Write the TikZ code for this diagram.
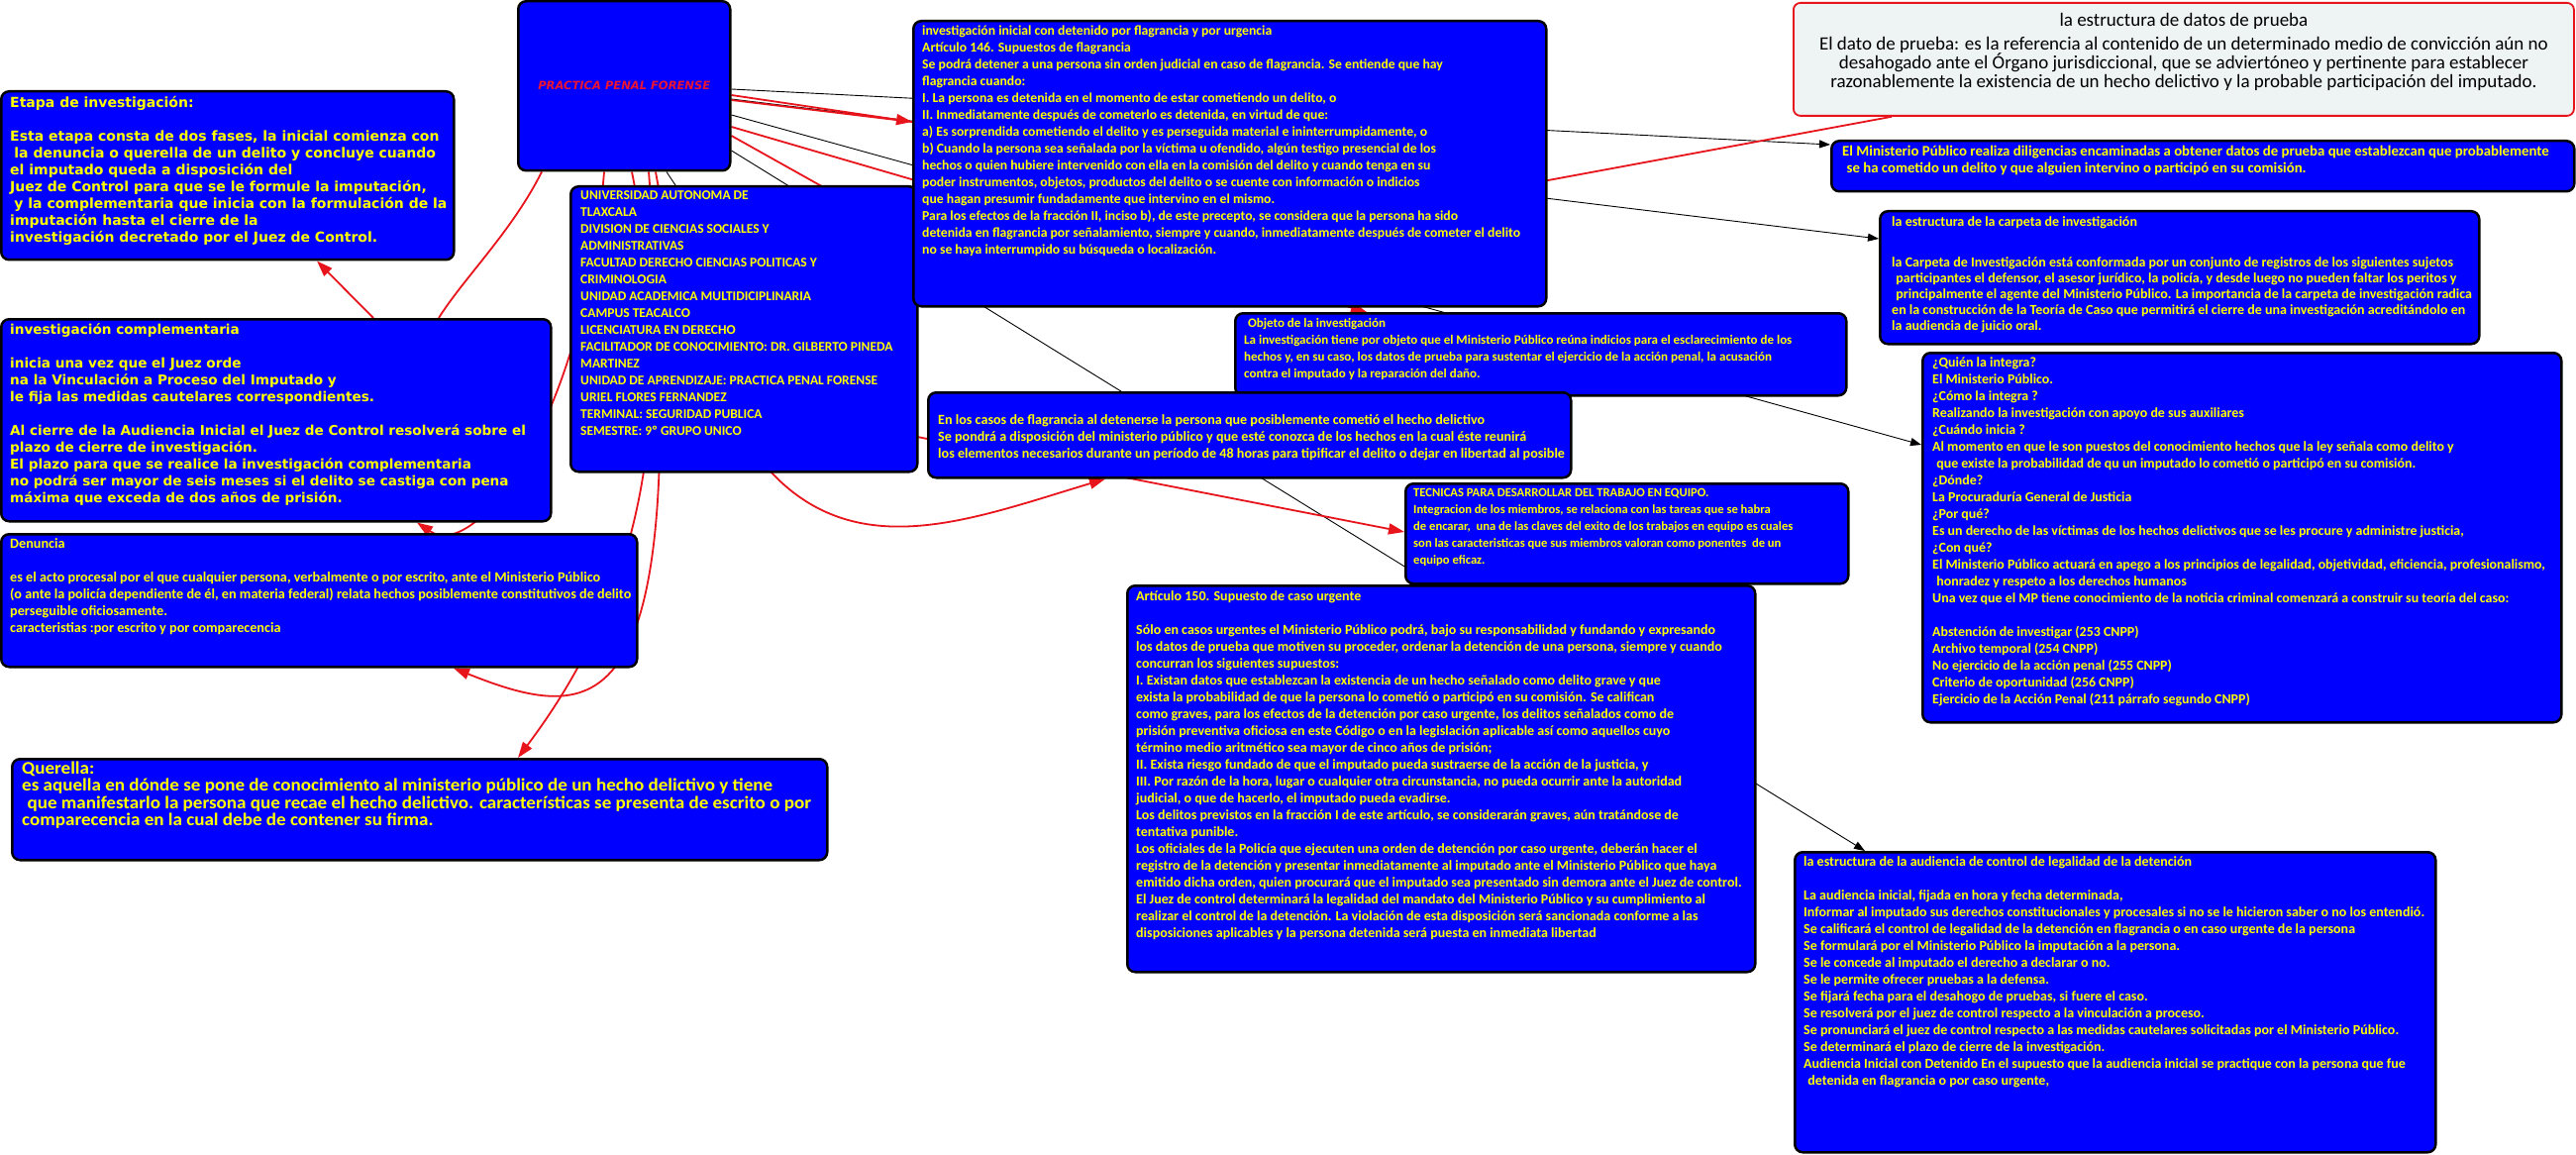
\documentclass[tikz,border=0pt]{standalone}
\usepackage{fontspec}
\newfontfamily\carlito{Carlito}
\newfontfamily\carlitoancha[FakeStretch=1.065]{Carlito}
\newfontfamily\dejavu{DejaVu Sans}
\usetikzlibrary{arrows.meta,calc,positioning}
\definecolor{azulcaja}{RGB}{0,0,255}
\definecolor{amarillo}{RGB}{255,255,0}
\definecolor{rojo}{RGB}{232,20,28}
\definecolor{rojotitulo}{RGB}{235,20,50}
\definecolor{grisdatos}{RGB}{238,243,243}
\pgfdeclarelayer{fondo}
\pgfsetlayers{fondo,main}
\newcommand{\letra}[1]{\carlito\bfseries\fontsize{#1}{17}\selectfont}
\newcommand{\letraancha}[1]{\dejavu\bfseries\fontsize{#1}{17}\selectfont}
\begin{document}
\begin{tikzpicture}[x=1pt, y=1pt,
    caja/.style={draw=black, line width=2.5pt, fill=azulcaja, rounded corners=8pt, anchor=north west},
    texto/.style={text=amarillo, align=left, inner sep=0pt},
    raiz/.style={caja, font=\dejavu\bfseries\itshape\fontsize{11.5}{14}\selectfont, text=rojotitulo},
    cajadatos/.style={draw=rojo, line width=1.8pt, fill=grisdatos, rounded corners=7pt, anchor=north west},
    enlace/.style={draw=black, line width=0.9pt, -{Triangle[length=11pt,width=8pt]}},
    linea/.style={draw=black, line width=0.9pt},
    flecha/.style={draw=rojo, line width=1.8pt, -{Triangle[length=16pt,width=11pt]}},
    trazo/.style={draw=rojo, line width=1.8pt}]
\useasboundingbox (0,0) rectangle (2601,-1166);

% raiz y datos generales
\node[raiz, minimum width=214pt, minimum height=171pt] (prac) at (522,0) {PRACTICA PENAL FORENSE};
\node[caja, minimum width=350pt, minimum height=288pt] (univ) at (575,-187) {};
\node[texto, font=\letra{13.5}, below right=5pt and 11pt of univ.north west] (univ-t) {UNIVERSIDAD AUTONOMA DE\\
TLAXCALA\\
DIVISION DE CIENCIAS SOCIALES Y\\
ADMINISTRATIVAS\\
FACULTAD DERECHO CIENCIAS POLITICAS Y\\
CRIMINOLOGIA\\
UNIDAD ACADEMICA MULTIDICIPLINARIA\\
CAMPUS TEACALCO\\
LICENCIATURA EN DERECHO\\
FACILITADOR DE CONOCIMIENTO: DR. GILBERTO PINEDA\\
MARTINEZ\\
UNIDAD DE APRENDIZAJE: PRACTICA PENAL FORENSE\\
URIEL FLORES FERNANDEZ\\
TERMINAL: SEGURIDAD PUBLICA\\
SEMESTRE: 9º GRUPO UNICO};

% lado izquierdo
\node[caja, minimum width=457pt, minimum height=170pt] (etapa) at (0,-91) {};
\node[texto, font=\letraancha{14}, below right=6pt and 10pt of etapa.north west] (etapa-t) {Etapa de investigación:\\[17pt]
Esta etapa consta de dos fases, la inicial comienza con\\
\hspace*{.3em}la denuncia o querella de un delito y concluye cuando\\
el imputado queda a disposición del\\
Juez de Control para que se le formule la imputación,\\
\hspace*{.3em}y la complementaria que inicia con la formulación de la\\
imputación hasta el cierre de la\\
investigación decretado por el Juez de Control.};

\node[caja, minimum width=555pt, minimum height=204pt] (compl) at (0,-321) {};
\node[texto, font=\letraancha{13.6}, below right=5pt and 10pt of compl.north west] (compl-t) {investigación complementaria\\[17pt]
inicia una vez que el Juez orde\\
na la Vinculación a Proceso del Imputado y\\
le fija las medidas cautelares correspondientes.\\[17pt]
Al cierre de la Audiencia Inicial el Juez de Control resolverá sobre el\\
plazo de cierre de investigación.\\
El plazo para que se realice la investigación complementaria\\
no podrá ser mayor de seis meses si el delito se castiga con pena\\
máxima que exceda de dos años de prisión.};

\node[caja, minimum width=642pt, minimum height=134pt] (denuncia) at (0,-538) {};
\node[texto, font=\letra{14.2}, below right=5pt and 10pt of denuncia.north west] (denuncia-t) {Denuncia\\[17pt]
es el acto procesal por el que cualquier persona, verbalmente o por escrito, ante el Ministerio Público\\
(o ante la policía dependiente de él, en materia federal) relata hechos posiblemente constitutivos de delito\\
perseguible oficiosamente.\\
caracteristias :por escrito y por comparecencia};

\node[caja, minimum width=823pt, minimum height=102pt] (querella) at (11,-765) {};
\node[texto, font=\carlitoancha\bfseries\fontsize{17.9}{17.2}\selectfont, below right=4pt and 11pt of querella.north west] (querella-t) {Querella:\\
es aquella en dónde se pone de conocimiento al ministerio público de un hecho delictivo y tiene\\
\hspace*{.3em}que manifestarlo la persona que recae el hecho delictivo. características se presenta de escrito o por\\
comparecencia en la cual debe de contener su firma.};

% centro
\node[caja, minimum width=639pt, minimum height=288pt] (inicial) at (921,-20) {};
\node[texto, font=\letra{13.7}, below right=6pt and 10pt of inicial.north west] (inicial-t) {investigación inicial con detenido por flagrancia y por urgencia\\
Artículo 146. Supuestos de flagrancia\\
Se podrá detener a una persona sin orden judicial en caso de flagrancia. Se entiende que hay\\
flagrancia cuando:\\
I. La persona es detenida en el momento de estar cometiendo un delito, o\\
II. Inmediatamente después de cometerlo es detenida, en virtud de que:\\
a) Es sorprendida cometiendo el delito y es perseguida material e ininterrumpidamente, o\\
b) Cuando la persona sea señalada por la víctima u ofendido, algún testigo presencial de los\\
hechos o quien hubiere intervenido con ella en la comisión del delito y cuando tenga en su\\
poder instrumentos, objetos, productos del delito o se cuente con información o indicios\\
que hagan presumir fundadamente que intervino en el mismo.\\
Para los efectos de la fracción II, inciso b), de este precepto, se considera que la persona ha sido\\
detenida en flagrancia por señalamiento, siempre y cuando, inmediatamente después de cometer el delito\\
no se haya interrumpido su búsqueda o localización.};

\node[caja, minimum width=617pt, minimum height=83pt] (objeto) at (1246,-315) {};
\node[texto, font=\letra{13}, below right=6pt and 10pt of objeto.north west] (objeto-t) {\hspace*{.3em}Objeto de la investigación\\
La investigación tiene por objeto que el Ministerio Público reúna indicios para el esclarecimiento de los\\
hechos y, en su caso, los datos de prueba para sustentar el ejercicio de la acción penal, la acusación\\
contra el imputado y la reparación del daño.};

\node[caja, minimum width=649pt, minimum height=86pt] (enlos) at (936,-395) {};
\node[texto, font=\letra{14.1}, below right=23pt and 11pt of enlos.north west] (enlos-t) {En los casos de flagrancia al detenerse la persona que posiblemente cometió el hecho delictivo\\
Se pondrá a disposición del ministerio público y que esté conozca de los hechos en la cual éste reunirá\\
los elementos necesarios durante un período de 48 horas para tipificar el delito o dejar en libertad al posible};

\node[caja, minimum width=447pt, minimum height=101pt] (tecnicas) at (1418,-487) {};
\node[texto, font=\letra{12.6}, below right=6pt and 9pt of tecnicas.north west] (tecnicas-t) {TECNICAS PARA DESARROLLAR DEL TRABAJO EN EQUIPO.\\
Integracion de los miembros, se relaciona con las tareas que se habra\\
de encarar,\ \ una de las claves del exito de los trabajos en equipo es cuales\\
son las caracteristicas que sus miembros valoran como ponentes\ \ de un\\
equipo eficaz.};

\node[caja, minimum width=634pt, minimum height=390pt] (art) at (1137,-590) {};
\node[texto, font=\letra{14}, below right=6pt and 10pt of art.north west] (art-t) {Artículo 150. Supuesto de caso urgente\\[17pt]
Sólo en casos urgentes el Ministerio Público podrá, bajo su responsabilidad y fundando y expresando\\
los datos de prueba que motiven su proceder, ordenar la detención de una persona, siempre y cuando\\
concurran los siguientes supuestos:\\
I. Existan datos que establezcan la existencia de un hecho señalado como delito grave y que\\
exista la probabilidad de que la persona lo cometió o participó en su comisión. Se califican\\
como graves, para los efectos de la detención por caso urgente, los delitos señalados como de\\
prisión preventiva oficiosa en este Código o en la legislación aplicable así como aquellos cuyo\\
término medio aritmético sea mayor de cinco años de prisión;\\
II. Exista riesgo fundado de que el imputado pueda sustraerse de la acción de la justicia, y\\
III. Por razón de la hora, lugar o cualquier otra circunstancia, no pueda ocurrir ante la autoridad\\
judicial, o que de hacerlo, el imputado pueda evadirse.\\
Los delitos previstos en la fracción I de este artículo, se considerarán graves, aún tratándose de\\
tentativa punible.\\
Los oficiales de la Policía que ejecuten una orden de detención por caso urgente, deberán hacer el\\
registro de la detención y presentar inmediatamente al imputado ante el Ministerio Público que haya\\
emitido dicha orden, quien procurará que el imputado sea presentado sin demora ante el Juez de control.\\
El Juez de control determinará la legalidad del mandato del Ministerio Público y su cumplimiento al\\
realizar el control de la detención. La violación de esta disposición será sancionada conforme a las\\
disposiciones aplicables y la persona detenida será puesta en inmediata libertad};

% lado derecho
\node[cajadatos, minimum width=788pt, minimum height=114pt] (datos) at (1810,-2) {};
\node[below=11pt of datos.north, align=center, inner sep=0pt, font=\carlito\fontsize{19}{19}\selectfont] (datos-t) {la estructura de datos de prueba\\[5pt]
El dato de prueba: es la referencia al contenido de un determinado medio de convicción aún no\\
desahogado ante el Órgano jurisdiccional, que se adviertóneo y pertinente para establecer\\
razonablemente la existencia de un hecho delictivo y la probable participación del imputado.};

\node[caja, minimum width=750pt, minimum height=51pt] (mp) at (1848,-141) {};
\node[texto, font=\letra{14.8}, below right=6pt and 12pt of mp.north west] (mp-t) {El Ministerio Público realiza diligencias encaminadas a obtener datos de prueba que establezcan que probablemente\\
\hspace*{.3em}se ha cometido un delito y que alguien intervino o participó en su comisión.};

\node[caja, minimum width=605pt, minimum height=134pt] (carpeta) at (1897,-212) {};
\node[texto, font=\carlito\bfseries\fontsize{14}{16}\selectfont, below right=6pt and 13pt of carpeta.north west] (carpeta-t) {la estructura de la carpeta de investigación\\[25pt]
la Carpeta de Investigación está conformada por un conjunto de registros de los siguientes sujetos\\
\hspace*{.3em}participantes el defensor, el asesor jurídico, la policía, y desde luego no pueden faltar los peritos y\\
\hspace*{.3em}principalmente el agente del Ministerio Público. La importancia de la carpeta de investigación radica\\
en la construcción de la Teoría de Caso que permitirá el cierre de una investigación acreditándolo en\\
la audiencia de juicio oral.};

\node[caja, minimum width=645pt, minimum height=373pt] (quien) at (1940,-355) {};
\node[texto, font=\letra{13.9}, below right=6pt and 11pt of quien.north west] (quien-t) {¿Quién la integra?\\
El Ministerio Público.\\
¿Cómo la integra ?\\
Realizando la investigación con apoyo de sus auxiliares\\
¿Cuándo inicia ?\\
Al momento en que le son puestos del conocimiento hechos que la ley señala como delito y\\
\hspace*{.3em}que existe la probabilidad de qu un imputado lo cometió o participó en su comisión.\\
¿Dónde?\\
La Procuraduría General de Justicia\\
¿Por qué?\\
Es un derecho de las víctimas de los hechos delictivos que se les procure y administre justicia,\\
¿Con qué?\\
El Ministerio Público actuará en apego a los principios de legalidad, objetividad, eficiencia, profesionalismo,\\
\hspace*{.3em}honradez y respeto a los derechos humanos\\
Una vez que el MP tiene conocimiento de la noticia criminal comenzará a construir su teoría del caso:\\[17pt]
Abstención de investigar (253 CNPP)\\
Archivo temporal (254 CNPP)\\
No ejercicio de la acción penal (255 CNPP)\\
Criterio de oportunidad (256 CNPP)\\
Ejercicio de la Acción Penal (211 párrafo segundo CNPP)};

\node[caja, minimum width=647pt, minimum height=303pt] (aud) at (1811,-859) {};
\node[texto, font=\letra{14}, below right=5pt and 10pt of aud.north west] (aud-t) {la estructura de la audiencia de control de legalidad de la detención\\[17pt]
La audiencia inicial, fijada en hora y fecha determinada,\\
Informar al imputado sus derechos constitucionales y procesales si no se le hicieron saber o no los entendió.\\
Se calificará el control de legalidad de la detención en flagrancia o en caso urgente de la persona\\
Se formulará por el Ministerio Público la imputación a la persona.\\
Se le concede al imputado el derecho a declarar o no.\\
Se le permite ofrecer pruebas a la defensa.\\
Se fijará fecha para el desahogo de pruebas, si fuere el caso.\\
Se resolverá por el juez de control respecto a la vinculación a proceso.\\
Se pronunciará el juez de control respecto a las medidas cautelares solicitadas por el Ministerio Público.\\
Se determinará el plazo de cierre de la investigación.\\
Audiencia Inicial con Detenido En el supuesto que la audiencia inicial se practique con la persona que fue\\
\hspace*{.3em}detenida en flagrancia o por caso urgente,};

% enlaces, por debajo de las cajas
\begin{pgfonlayer}{fondo}
\fill[white] (0,0) rectangle (2601,-1166);
\draw[enlace] ($(prac.north east)+(0,-90)$) -- ($(mp.north west)+(0,-5)$);
\draw[enlace] ($(prac.north east)+(0,-100)$) -- ($(carpeta.north west)+(0,-29)$);
\draw[enlace] ($(prac.north east)+(0,-116)$) -- ($(quien.north west)+(0,-94)$);
\draw[enlace] ($(prac.north east)+(0,-152)$) -- ($(aud.north west)+(72,0)$);
\draw[linea] ($(prac.south west)+(151,0)$) -- ($(univ.north west)+(107,0)$);
\draw[trazo] ($(prac.north east)+(0,-101)$) -- ($(inicial.north west)+(0,-103)$);
\draw[flecha] ($(prac.north east)+(0,-96)$) -- ($(inicial.north west)+(0,-103)$);
\draw[flecha] ($(prac.north east)+(0,-128)$) -- ($(objeto.north west)+(134,0)$);
\draw[flecha] ($(prac.north east)+(0,-137)$) -- ($(univ.north west)+(285,-18)$) -- ($(univ.north west)+(305,-245)$) -- ($(tecnicas.north west)+(0,-50)$);
\draw[trazo] (univ.center) -- ($(datos.south west)+(100,0)$);
\draw[trazo] ($(prac.south west)+(25,0)$) .. controls +(-30,-60) and +(25,40) .. ($(compl.north west)+(443,0)$);
\draw[flecha] ($(compl.north west)+(377,0)$) -- ($(etapa.south west)+(320,0)$);
\draw[flecha] ($(prac.south west)+(88,0)$) .. controls +(-20,-250) and +(60,-40) .. ($(compl.south west)+(421,0)$);
\draw[flecha] ($(prac.south west)+(116,0)$) .. controls +(60,-300) and +(90,120) .. ($(querella.north west)+(512,0)$);
\draw[flecha] ($(prac.south west)+(133,0)$) .. controls +(45,-560) and +(150,-60) .. ($(denuncia.south west)+(458,0)$);
\draw[flecha] ($(prac.south west)+(140,0)$) .. controls +(80,-450) and +(-200,-60) .. ($(enlos.south west)+(180,0)$);
\end{pgfonlayer}
\end{tikzpicture}
\end{document}
